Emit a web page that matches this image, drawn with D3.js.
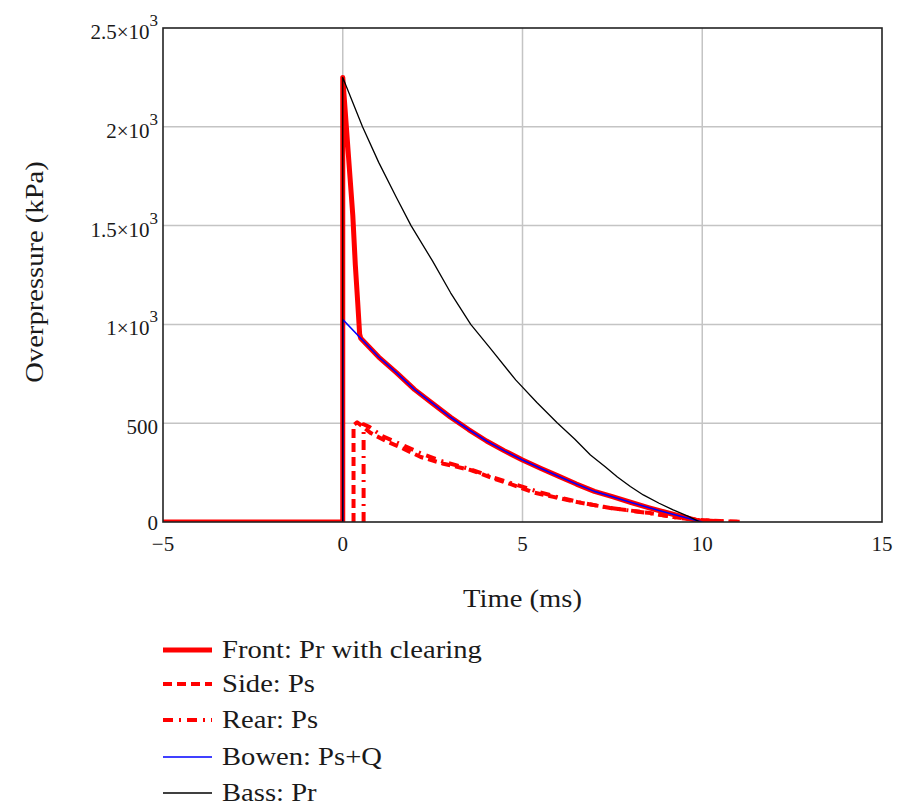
<!DOCTYPE html>
<html><head><meta charset="utf-8">
<script src="https://cdn.jsdelivr.net/npm/d3@7"></script>
<style>
body{margin:0;background:#fff}
text{font-family:"Liberation Serif","Times New Roman",serif;fill:#1a1a1a}
</style>
</head><body>
<svg id="c" width="901" height="807"></svg>
<script>
// ---- data ----
const xTicks = [-5, 0, 5, 10, 15];
const xTickLabels = ["\u22125", "0", "5", "10", "15"];
const yTicks = [0, 500, 1000, 1500, 2000, 2500];
const yTickLabels = ["0", "500", "1\u00d710", "1.5\u00d710", "2\u00d710", "2.5\u00d710"];
const yTickExp = ["", "", "3", "3", "3", "3"];

const seriesNames = ["Front: Pr with clearing", "Side: Ps", "Rear: Ps", "Bowen: Ps+Q", "Bass: Pr"];

const frontT = [-5, 0, 0, 0.1, 0.2, 0.28, 0.35, 0.42, 0.47, 0.5, 1, 1.5, 2, 2.5, 3, 3.5, 4, 4.5, 5, 5.5, 6, 6.5, 7, 7.5, 8, 8.5, 9, 9.5, 10];
const frontV = [0, 0, 2250, 2000, 1750, 1550, 1300, 1100, 950, 930, 835, 755, 670, 600, 530, 468, 410, 360, 314, 272, 232, 192, 155, 128, 100, 73, 48, 24, 0];

const sideT = [0.3, 0.3, 0.4, 0.78, 1.2, 1.7, 2.17, 2.8, 3.56, 4.2, 4.75, 5.3, 5.86, 6.6, 7.44, 8, 8.56, 9.2, 9.94, 10.5, 11.1];
const sideV = [0, 490, 505, 450, 410, 370, 329, 295, 263, 220, 187, 150, 127, 98, 71, 58, 45, 25, 10, 5, 0];

const rearT = [0.58, 0.58, 0.75, 1.1, 1.6, 2.2, 2.8, 3.5, 4.2, 4.8, 5.4, 6, 6.7, 7.4, 8.1, 8.7, 9.3, 10, 10.6, 11.2];
const rearV = [0, 495, 480, 435, 395, 345, 305, 270, 225, 190, 155, 125, 95, 72, 55, 40, 22, 8, 4, 0];

const bowenT = [0, 0, 0.5, 1, 1.5, 2, 2.5, 3, 3.5, 4, 4.5, 5, 5.5, 6, 6.5, 7, 7.5, 8, 8.5, 9, 9.5, 10];
const bowenV = [0, 1025, 930, 835, 755, 670, 600, 530, 468, 410, 360, 314, 272, 232, 192, 155, 128, 100, 73, 48, 24, 0];

const bassT = [0, 0, 0.55, 1, 1.5, 1.9, 2.5, 3, 3.56, 4.1, 4.81, 5.4, 5.97, 6.45, 6.89, 7.3, 7.64, 8, 8.36, 8.8, 9.19, 9.6, 9.94];
const bassV = [0, 2250, 2000, 1820, 1640, 1500, 1320, 1160, 1000, 880, 719, 605, 501, 420, 339, 280, 228, 180, 137, 95, 61, 30, 0];

// ---- layout ----
const svg = d3.select("#c");
const L = 163, R = 882, T = 28, B = 522;
const x = d3.scaleLinear().domain([-5, 15]).range([L, R]);
const y = d3.scaleLinear().domain([0, 2500]).range([B, T]);
const STRETCH = 1.1;

svg.append("defs").append("clipPath").attr("id", "clip")
  .append("rect").attr("x", L).attr("y", T - 4).attr("width", R - L).attr("height", B - T + 4);

// gridlines
svg.append("g").selectAll("line").data(xTicks.slice(1, -1)).join("line")
  .attr("x1", d => x(d)).attr("x2", d => x(d)).attr("y1", T).attr("y2", B)
  .attr("stroke", "#c4c4c4").attr("stroke-width", 1.5);
svg.append("g").selectAll("line").data(yTicks.slice(1, -1)).join("line")
  .attr("x1", L).attr("x2", R).attr("y1", d => y(d)).attr("y2", d => y(d))
  .attr("stroke", "#c4c4c4").attr("stroke-width", 1.5);

const series = [
  {t: frontT, v: frontV, color: "#ff0000", w: 5, dash: null},
  {t: sideT, v: sideV, color: "#ff0000", w: 4, dash: "9,5"},
  {t: rearT, v: rearV, color: "#ff0000", w: 4, dash: "10,6,2,6"},
  {t: bowenT, v: bowenV, color: "#0000ff", w: 1.6, dash: null},
  {t: bassT, v: bassV, color: "#000000", w: 1.3, dash: null}
];
const line = d3.line().x(d => x(d[0])).y(d => y(d[1]));
const gl = svg.append("g").attr("clip-path", "url(#clip)");
series.forEach(s => {
  gl.append("path").datum(s.t.map((t, i) => [t, s.v[i]]))
    .attr("d", line).attr("fill", "none").attr("stroke", s.color)
    .attr("stroke-width", s.w).attr("stroke-dasharray", s.dash)
    .attr("stroke-linejoin", "round");
});

// frame
svg.append("rect").attr("x", L).attr("y", T).attr("width", R - L).attr("height", B - T)
  .attr("fill", "none").attr("stroke", "#222").attr("stroke-width", 1.6);

// x tick labels
svg.append("g").selectAll("text").data(xTicks).join("text")
  .attr("x", d => x(d)).attr("y", 551).attr("text-anchor", "middle")
  .attr("font-size", 21).text((d, i) => xTickLabels[i]);

// y tick labels
const yl = svg.append("g").selectAll("text").data(yTicks).join("text")
  .attr("x", 158).attr("y", d => y(d) + (d === 0 ? 8 : 11)).attr("text-anchor", "end").attr("font-size", 21);
yl.append("tspan").text((d, i) => yTickLabels[i]);
yl.append("tspan").attr("font-size", 17).attr("dy", -13).text((d, i) => yTickExp[i]);

// axis titles
function stretch(sel) {
  sel.each(function () {
    const w = this.getComputedTextLength();
    d3.select(this).attr("textLength", w * STRETCH).attr("lengthAdjust", "spacingAndGlyphs");
  });
}
svg.append("text").attr("x", x(5)).attr("y", 607).attr("text-anchor", "middle")
  .attr("font-size", 26).text("Time (ms)").call(stretch);
svg.append("text").attr("transform", "translate(43,272) rotate(-90)").attr("text-anchor", "middle")
  .attr("font-size", 26).text("Overpressure (kPa)").call(stretch);

// legend
const legY = [650, 684, 720, 757, 793];
const lg = svg.append("g");
series.forEach((s, i) => {
  lg.append("line").attr("x1", 163).attr("x2", 212).attr("y1", legY[i]).attr("y2", legY[i])
    .attr("stroke", s.color).attr("stroke-width", s.w).attr("stroke-dasharray", s.dash);
  lg.append("text").attr("x", 222).attr("y", legY[i] + 8).attr("font-size", 26)
    .text(seriesNames[i]).call(stretch);
});
</script>
</body></html>
